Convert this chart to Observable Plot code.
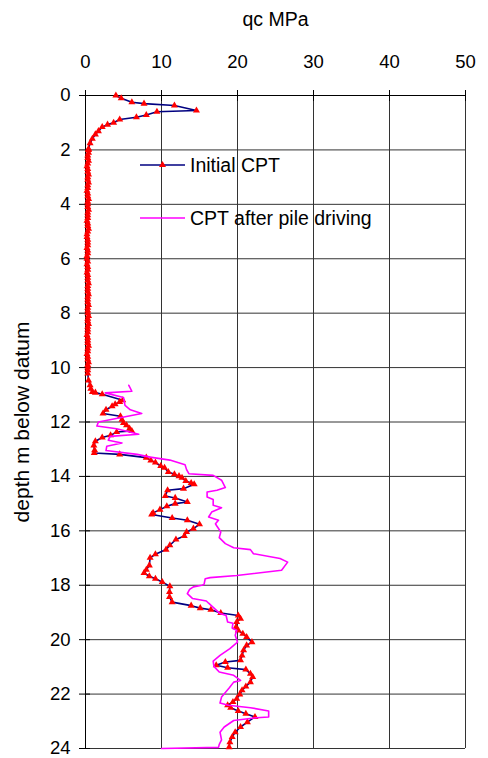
<!DOCTYPE html>
<html><head><meta charset="utf-8">
<script src="https://cdn.jsdelivr.net/npm/d3@7"></script>
<script src="https://cdn.jsdelivr.net/npm/@observablehq/plot@0.6"></script>
<style>
html,body{margin:0;padding:0;background:#fff;}
#wrap{position:relative;width:488px;height:758px;}
#legend{position:absolute;left:0;top:0;pointer-events:none;}
</style></head><body><div id="wrap"></div>
<script>
const seriesNames = ["Initial CPT", "CPT after pile driving"];
const titleText = "qc MPa";
const yLabelText = "depth m below datum";
const xTicks = [0, 10, 20, 30, 40, 50];
const yTicks = [0, 2, 4, 6, 8, 10, 12, 14, 16, 18, 20, 22, 24];
const gridX = [10, 20, 30, 40, 50];
const gridY = [2, 4, 6, 8, 10, 12, 14, 16, 18, 20, 22, 24];

const initialDepth = [
  0.00, 0.10, 0.25, 0.30, 0.37, 0.55, 0.60, 0.72, 0.80, 0.88, 1.00, 1.07, 1.16, 1.31, 1.43, 1.59, 1.75, 1.96, 2.0,
  2.1, 2.2, 2.3, 2.4, 2.5, 2.6, 2.7, 2.8, 2.9, 3.0, 3.1, 3.2, 3.3, 3.4, 3.5, 3.6, 3.7, 3.8, 3.9, 4.0,
  4.1, 4.2, 4.3, 4.4, 4.5, 4.6, 4.7, 4.8, 4.9, 5.0, 5.1, 5.2, 5.3, 5.4, 5.5, 5.6, 5.7, 5.8, 5.9, 6.0,
  6.1, 6.2, 6.3, 6.4, 6.5, 6.6, 6.7, 6.8, 6.9, 7.0, 7.1, 7.2, 7.3, 7.4, 7.5, 7.6, 7.7, 7.8, 7.9, 8.0,
  8.1, 8.2, 8.3, 8.4, 8.5, 8.6, 8.7, 8.8, 8.9, 9.0, 9.1, 9.2, 9.3, 9.4, 9.5, 9.6, 9.7, 9.8, 9.9, 10.0, 10.1,
  10.22, 10.47, 10.65, 10.78, 10.90, 10.92, 10.98, 11.20, 11.26, 11.35, 11.42, 11.55, 11.69, 11.79, 11.92,
  12.04, 12.12, 12.24, 12.33, 12.37, 12.49, 12.57, 12.71, 12.86, 13.04, 13.14, 13.19, 13.31, 13.41, 13.49,
  13.62, 13.68, 13.84, 13.92, 13.99, 14.05, 14.17, 14.24, 14.29, 14.45, 14.51, 14.72, 14.79, 14.94, 15.00,
  15.10, 15.22, 15.34, 15.40, 15.53, 15.61, 15.76, 15.92, 16.04, 16.19, 16.32, 16.53, 16.69, 16.86, 16.99,
  17.27, 17.43, 17.55, 17.67, 17.76, 17.88, 18.04, 18.25, 18.43, 18.62, 18.75, 18.84, 18.90, 19.02, 19.11,
  19.23, 19.35, 19.54, 19.66, 19.78, 19.90, 20.09, 20.21, 20.39, 20.58, 20.76, 20.82, 20.94, 21.03, 21.10,
  21.25, 21.37, 21.56, 21.72, 21.86, 22.01, 22.17, 22.29, 22.41, 22.50, 22.62, 22.72, 22.84, 23.03, 23.21,
  23.40, 23.58, 23.77, 23.95
];
const initialQc = [
  4.0, 4.7, 6.1, 7.7, 11.7, 14.6, 9.4, 8.0, 6.7, 4.5, 3.7, 2.9, 2.2, 1.7, 1.3, 0.9, 0.6, 0.4, 0.4,
  0.4, 0.3, 0.3, 0.4, 0.3, 0.2, 0.3, 0.3, 0.4, 0.3, 0.3, 0.4, 0.3, 0.3, 0.2, 0.3, 0.3, 0.4, 0.3, 0.3,
  0.3, 0.4, 0.3, 0.3, 0.3, 0.2, 0.3, 0.3, 0.4, 0.3, 0.2, 0.2, 0.3, 0.3, 0.3, 0.2, 0.3, 0.3, 0.2, 0.2,
  0.3, 0.2, 0.3, 0.3, 0.2, 0.3, 0.3, 0.3, 0.4, 0.3, 0.3, 0.3, 0.4, 0.3, 0.3, 0.3, 0.4, 0.3, 0.3, 0.3,
  0.4, 0.3, 0.3, 0.4, 0.3, 0.3, 0.3, 0.2, 0.3, 0.3, 0.3, 0.4, 0.3, 0.3, 0.2, 0.3, 0.3, 0.4, 0.3, 0.3, 0.3,
  0.3, 0.4, 0.6, 0.7, 0.9, 1.3, 2.2, 4.9, 4.5, 3.9, 3.5, 2.7, 2.3, 4.6, 4.8,
  5.0, 5.4, 5.8, 6.1, 4.1, 3.3, 2.2, 1.3, 1.1, 1.2, 1.15, 4.5, 8.0, 8.6, 9.2,
  9.9, 10.4, 10.9, 11.7, 12.3, 12.7, 13.2, 13.9, 14.3, 12.9, 10.8, 10.5, 11.8, 13.4, 11.8,
  10.7, 9.8, 8.9, 8.7, 11.4, 13.4, 15.0, 14.2, 13.3, 13.0, 11.9, 11.1, 10.6, 9.2, 8.5,
  8.4, 8.0, 7.7, 8.4, 9.2, 10.1, 11.1, 11.05, 11.05, 11.4, 13.9, 15.1, 16.5, 17.8, 20.1,
  20.4, 19.9, 19.8, 20.1, 20.7, 21.2, 21.9, 21.2, 20.8, 20.6, 20.4, 18.4, 17.2, 18.7, 21.1,
  21.7, 22.0, 21.7, 21.1, 20.6, 20.3, 19.9, 19.4, 18.7, 19.1, 20.1, 21.1, 22.3, 21.3, 20.4,
  19.7, 19.3, 19.0, 18.9
];

const afterDepth = [
  10.65, 10.87, 10.93, 11.10, 11.39, 11.55, 11.69, 12.00, 12.15, 12.25, 12.45, 12.53, 12.67, 12.77, 12.89,
  13.05, 13.19, 13.29, 13.40, 13.57, 13.75, 13.90, 13.96, 14.14, 14.41, 14.51, 14.57, 14.76, 14.85, 15.06,
  15.15, 15.31, 15.49, 15.61, 15.74, 15.83, 16.04, 16.25, 16.47, 16.62, 16.69, 16.84, 17.02, 17.15, 17.45,
  17.64, 17.72, 17.76, 17.97, 18.00, 18.06, 18.15, 18.31, 18.49, 18.58, 18.66, 19.04, 19.11, 19.35, 19.40,
  19.57, 19.66, 19.84, 20.09, 20.33, 20.58, 20.79, 20.98, 21.19, 21.31, 21.50, 21.56, 21.78, 22.11, 22.33,
  22.41, 22.50, 22.62, 22.84, 22.87, 22.97, 23.21, 23.40, 23.68, 23.85, 23.96, 24.00
];
const afterQc = [
  5.7, 6.1, 2.6, 5.0, 5.2, 5.9, 7.4, 1.7, 1.5, 4.1, 7.0, 3.25, 3.0, 4.8, 2.8,
  2.7, 6.8, 8.5, 11.1, 13.1, 13.3, 13.6, 16.8, 17.9, 18.4, 17.3, 16.0, 16.0, 16.8, 16.8,
  17.9, 16.6, 16.2, 17.5, 17.1, 17.3, 17.8, 17.6, 18.4, 19.5, 21.7, 22.1, 25.6, 26.6, 25.8,
  19.9, 16.4, 15.75, 15.6, 15.3, 14.2, 13.7, 13.4, 14.1, 15.9, 16.2, 17.7, 18.5, 18.7, 19.4,
  19.3, 19.9, 19.7, 20.0, 19.0, 17.7, 16.8, 16.9, 17.6, 19.5, 20.4, 19.5, 18.9, 17.9, 17.7,
  18.8, 21.7, 24.1, 24.1, 22.5, 19.5, 18.25, 17.7, 17.9, 17.6, 17.5, 10.0
];

const initial = initialDepth.map((d, i) => ({depth: d, qc: initialQc[i]}));
const after = afterDepth.map((d, i) => ({depth: d, qc: afterQc[i]}));

const font = "'Liberation Sans', Arial, sans-serif";
const navy = "#000080", red = "#ff0000", magenta = "#ff00ff";
const markerR = 2.6;

const chart = Plot.plot({
  width: 488, height: 758,
  marginTop: 95, marginLeft: 85, marginRight: 23, marginBottom: 10,
  style: {fontFamily: font, background: "#fff", color: "#000", overflow: "visible"},
  x: {domain: [0, 50], axis: null},
  y: {domain: [0, 24], reverse: true, axis: null},
  marks: [
    Plot.ruleX(gridX, {stroke: "#333", strokeWidth: 1}),
    Plot.ruleY(gridY, {stroke: "#333", strokeWidth: 1}),
    Plot.ruleX([0], {stroke: "#000"}),
    Plot.ruleY([0], {stroke: "#000"}),
    Plot.axisX({anchor: "top", ticks: xTicks, tickSize: 11, dy: 5, tickFormat: () => "", label: null}),
    Plot.axisX({anchor: "top", ticks: xTicks, tickSize: 0, tickPadding: 28, fontSize: 18.5, label: null}),
    Plot.axisY({anchor: "left", ticks: yTicks, tickSize: 11, dx: 5, tickFormat: () => "", label: null}),
    Plot.axisY({anchor: "left", ticks: yTicks, tickSize: 0, tickPadding: 15, fontSize: 18.5, label: null}),
    Plot.line(initial, {x: "qc", y: "depth", stroke: navy, strokeWidth: 1.6}),
    Plot.dot(initial, {x: "qc", y: "depth", symbol: "triangle", fill: red, r: markerR}),
    Plot.line(after, {x: "qc", y: "depth", stroke: magenta, strokeWidth: 1.6}),
    Plot.text([titleText], {frameAnchor: "top", lineAnchor: "middle", dy: -76, fontSize: 19.5}),
    Plot.text([yLabelText], {frameAnchor: "left", textAnchor: "middle", lineAnchor: "middle", dx: -63, rotate: -90, fontSize: 21})
  ]
});

const wrap = document.getElementById("wrap");
wrap.appendChild(chart);

// Legend overlay inside the plot area
const ns = "http://www.w3.org/2000/svg";
const lg = document.createElementNS(ns, "svg");
lg.setAttribute("id", "legend");
lg.setAttribute("width", 488);
lg.setAttribute("height", 758);
const items = [
  {name: seriesNames[0], color: navy, marker: true, y: 165},
  {name: seriesNames[1], color: magenta, marker: false, y: 218}
];
for (const it of items) {
  const ln = document.createElementNS(ns, "line");
  ln.setAttribute("x1", 140); ln.setAttribute("x2", 185);
  ln.setAttribute("y1", it.y); ln.setAttribute("y2", it.y);
  ln.setAttribute("stroke", it.color); ln.setAttribute("stroke-width", 1.6);
  lg.appendChild(ln);
  if (it.marker) {
    const p = document.createElementNS(ns, "path");
    p.setAttribute("d", d3.symbol(d3.symbolTriangle, Math.PI * markerR * markerR)());
    p.setAttribute("transform", `translate(162.5,${it.y})`);
    p.setAttribute("fill", red);
    lg.appendChild(p);
  }
  const t = document.createElementNS(ns, "text");
  t.setAttribute("x", 190); t.setAttribute("y", it.y);
  t.setAttribute("dy", "0.35em");
  t.setAttribute("font-family", font);
  t.setAttribute("font-size", 19.5);
  t.setAttribute("fill", "#000");
  t.textContent = it.name;
  lg.appendChild(t);
}
wrap.appendChild(lg);
</script></body></html>
